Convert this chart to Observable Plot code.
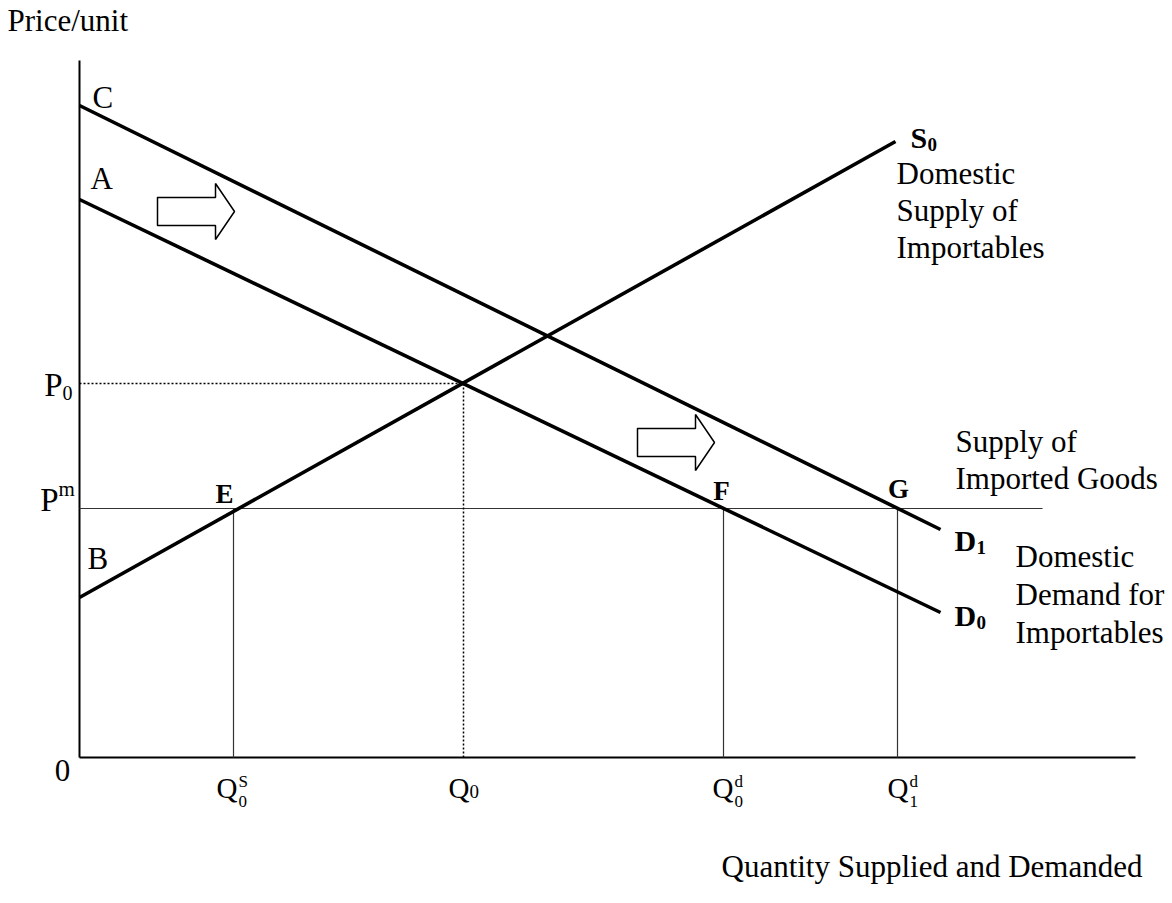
<!DOCTYPE html>
<html><head><meta charset="utf-8">
<script src="https://cdn.jsdelivr.net/npm/d3@7"></script>
<script src="https://cdn.jsdelivr.net/npm/@observablehq/plot@0.6"></script>
<style>html,body{margin:0;padding:0;background:#fff;} svg{display:block;}</style>
</head><body><div id="chart"></div>
<script>
// ---- data (quantity / price units of the diagram) ----
const axisMaxQ = 105.6, axisMaxP = 69.7;
const curveNames = ["D0", "D1", "S0"];
const curveStartQ = [0, 0, 0];
const curveStartP = [55.8, 65.2, 16.0];
const curveEndQ = [86.1, 86.1, 81.6];
const curveEndP = [14.5, 22.8, 61.6];
const interceptNames = ["A", "C", "B"];
const importPrice = 24.9;       // P^m
const importLineEndQ = 96.3;
const eqPrice = 37.4;            // P0
const eqQty = 38.4;              // Q0
const pointNames = ["E", "F", "G"];
const pointQty = [15.4, 64.4, 81.8];
const tickBase = ["Q", "Q", "Q", "Q"];
const tickSub = ["0", "0", "0", "1"];
const tickSup = ["S", "", "d", "d"];
const tickQty = [15.4, 38.4, 64.4, 81.8];
const arrowTailQ = [7.8, 55.8];
const arrowTipQ = [15.5, 63.5];
const arrowP = [54.6, 31.5];

const FONT = "'Liberation Serif','Times New Roman',Times,serif";
const seg = (x1, y1, x2, y2) => ({x1, y1, x2, y2});
const linkOpts = {x1: "x1", y1: "y1", x2: "x2", y2: "y2"};

const curves = curveNames.map((n, i) => seg(curveStartQ[i], curveStartP[i], curveEndQ[i], curveEndP[i]));
const thin = [seg(0, importPrice, importLineEndQ, importPrice), ...pointQty.map(q => seg(q, 0, q, importPrice))];
const dotted = [seg(0, eqPrice, eqQty, eqPrice), seg(eqQty, 0, eqQty, eqPrice)];

// block arrows
const headLen = 1.9, bodyHalf = 1.4, headHalf = 2.8;
const arrowPts = [];
arrowTailQ.forEach((x0, i) => {
  const x1 = arrowTipQ[i], y = arrowP[i], xb = x1 - headLen;
  [[x0, y + bodyHalf], [xb, y + bodyHalf], [xb, y + headHalf], [x1, y], [xb, y - headHalf],
   [xb, y - bodyHalf], [x0, y - bodyHalf], [x0, y + bodyHalf]].forEach(([x, yy]) => arrowPts.push({id: i, x, y: yy}));
});

function label(text, x, y, o = {}) {
  return Plot.text([{x, y, text}], {x: "x", y: "y", text: "text", fontFamily: FONT, fontSize: 31,
    textAnchor: "start", lineAnchor: "bottom", fill: "black", ...o});
}

const marks = [
  // axes
  Plot.link([seg(0, 0, 0, axisMaxP), seg(0, 0, axisMaxQ, 0)], {...linkOpts, stroke: "black", strokeWidth: 2}),
  // thin lines
  Plot.link(thin, {...linkOpts, stroke: "#333", strokeWidth: 1.2}),
  Plot.link(dotted, {...linkOpts, stroke: "black", strokeWidth: 1.5, strokeDasharray: "2,2"}),
  // curves
  Plot.link(curves, {...linkOpts, stroke: "black", strokeWidth: 3.6}),
  // arrows
  Plot.line(arrowPts, {x: "x", y: "y", z: "id", stroke: "black", strokeWidth: 1.5, strokeLinejoin: "miter", curve: "linear"}),
  // axis titles
  label("Price/unit", 0, axisMaxP, {dx: -72, dy: -30}),
  label("Quantity Supplied and Demanded", axisMaxQ, 0, {textAnchor: "end", dx: 7, dy: 119}),
  label("0", 0, 0, {textAnchor: "middle", dx: -17, dy: 23}),
  // intercept letters
  label(interceptNames[1], 0, curveStartP[1], {dx: 13, dy: 2}),
  label(interceptNames[0], 0, curveStartP[0], {dx: 11, dy: -11}),
  label(interceptNames[2], 0, curveStartP[2], {dx: 8, dy: -29}),
  // price labels
  label("P", 0, eqPrice, {textAnchor: "end", fontSize: 33, dx: -17, dy: 12}),
  label("0", 0, eqPrice, {fontSize: 20, dx: -17, dy: 16}),
  label("P", 0, importPrice, {textAnchor: "end", fontSize: 33, dx: -21, dy: 2}),
  label("m", 0, importPrice, {fontSize: 21, dx: -21, dy: -13}),
  // E F G
  label(pointNames[0], pointQty[0], importPrice, {textAnchor: "middle", fontWeight: "bold", fontSize: 27, dx: -9, dy: -6}),
  label(pointNames[1], pointQty[1], importPrice, {textAnchor: "middle", fontWeight: "bold", fontSize: 27, dx: -2, dy: -9}),
  label(pointNames[2], pointQty[2], importPrice, {textAnchor: "middle", fontWeight: "bold", fontSize: 27, dx: 1, dy: -11}),
  // curve labels
  label("S", curveEndQ[2], curveEndP[2], {fontWeight: "bold", fontSize: 30, dx: 15, dy: 6}),
  label("0", curveEndQ[2], curveEndP[2], {fontWeight: "bold", fontSize: 19, dx: 32, dy: 9}),
  label("D", curveEndQ[1], curveEndP[1], {fontWeight: "bold", fontSize: 30, dx: 14, dy: 21}),
  label("1", curveEndQ[1], curveEndP[1], {fontWeight: "bold", fontSize: 19, dx: 36, dy: 24}),
  label("D", curveEndQ[0], curveEndP[0], {fontWeight: "bold", fontSize: 30, dx: 14, dy: 13}),
  label("0", curveEndQ[0], curveEndP[0], {fontWeight: "bold", fontSize: 19, dx: 36, dy: 16}),
  // descriptive texts
  label("Domestic\nSupply of\nImportables", curveEndQ[2], curveEndP[2], {dx: 1, dy: 116, lineHeight: 1.19}),
  label("Supply of\nImported Goods", importLineEndQ, importPrice, {dx: -87, dy: -20, lineHeight: 1.17}),
  label("Domestic\nDemand for\nImportables", curveEndQ[0], curveEndP[0], {dx: 75, dy: 30, lineHeight: 1.22})
];

// quantity tick labels
const qOff = [4, 6, 10, 11];
tickQty.forEach((q, i) => {
  marks.push(label(tickBase[i], q, 0, {textAnchor: "end", fontSize: 29, dx: qOff[i], dy: 40}));
  if (tickSup[i]) {
    marks.push(label(tickSup[i], q, 0, {fontSize: 17, dx: qOff[i] + 1, dy: 29}));
    marks.push(label(tickSub[i], q, 0, {fontSize: 17, dx: qOff[i] + 1, dy: 49}));
  } else {
    marks.push(label(tickSub[i], q, 0, {fontSize: 19, dx: qOff[i], dy: 40}));
  }
});

const chart = Plot.plot({
  width: 1172, height: 903,
  marginLeft: 79, marginRight: 37, marginTop: 60, marginBottom: 146,
  x: {domain: [0, axisMaxQ], axis: null},
  y: {domain: [0, axisMaxP], axis: null},
  style: {fontFamily: FONT, background: "white", overflow: "visible"},
  marks
});
document.getElementById("chart").append(chart);
</script></body></html>
